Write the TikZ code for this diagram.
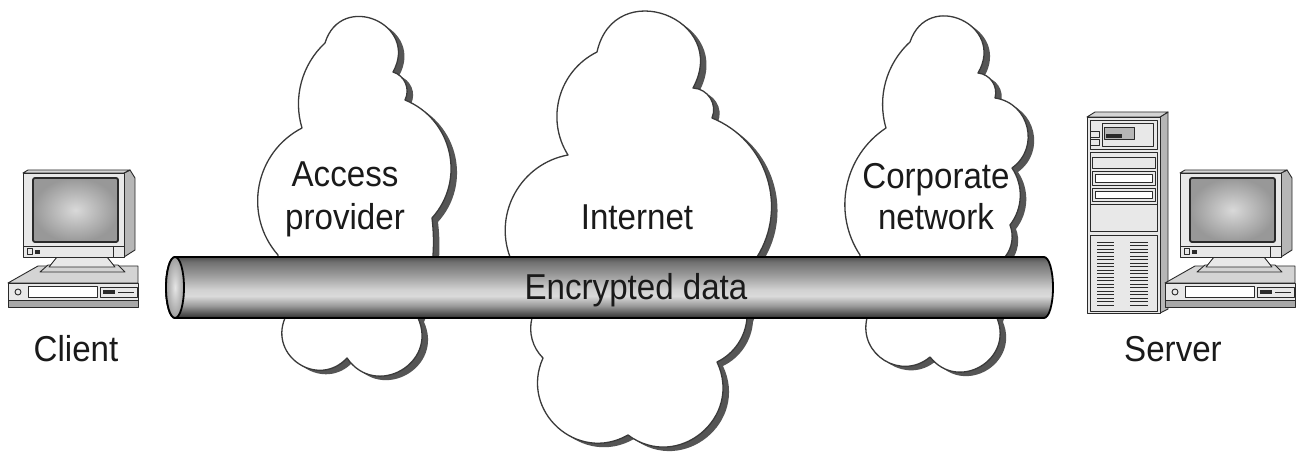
\documentclass[tikz,border=0pt]{standalone}
\usepackage{fontspec}
\setmainfont{Liberation Sans}[FakeStretch=0.92]

\definecolor{ink}{HTML}{1A1A1A}
\definecolor{cloudline}{HTML}{3A3A3A}
\definecolor{cloudshadow}{HTML}{555555}
\definecolor{caselight}{HTML}{E8E8E8}
\definecolor{casetop}{HTML}{D4D4D4}
\definecolor{caseside}{HTML}{B6B6B6}
\definecolor{casedark}{HTML}{A8A8A8}
\definecolor{caseline}{HTML}{2A2A2A}
\definecolor{screenin}{HTML}{D9D9D9}
\definecolor{screenout}{HTML}{989898}
\definecolor{tb0}{HTML}{303030}
\definecolor{tb1}{HTML}{585858}
\definecolor{tb2}{HTML}{9A9A9A}
\definecolor{tb3}{HTML}{DADADA}
\definecolor{tb4}{HTML}{D2D2D2}
\definecolor{tb5}{HTML}{9C9C9C}
\definecolor{tb6}{HTML}{707070}
\definecolor{tb7}{HTML}{4E4E4E}

% pipe body: dark edges, light band a little below the middle
\pgfdeclareverticalshading{tubeshade}{100bp}{color(0bp)=(tb0); color(25bp)=(tb0);
  color(29bp)=(tb1); color(35bp)=(tb2); color(43bp)=(tb3); color(48bp)=(tb4);
  color(60bp)=(tb5); color(71bp)=(tb6); color(75bp)=(tb7); color(100bp)=(tb7)}

\newcommand\lblsize{\fontsize{36}{43}\selectfont}

% cloud outlines: cusp points joined by circular lobes
\newcommand\cloudAP{(325,43) to[lobe=96] (393,72) to[lobe=50] (405,100)
  to[lobe=55] (432,218) to[lobe=15] (418,318) to[lobe=85] (347,358)
  to[lobe=80] (285,318) to[lobe=10] (278,255) to[lobe=52] (302,128)
  to[lobe=32] (325,43) -- cycle}
\newcommand\cloudIN{(597,52) to[lobe=98] (693,88) to[lobe=55] (712,118)
  to[lobe=50] (757,257) to[lobe=10] (747,318) to[lobe=30] (717,362)
  to[lobe=76] (628,435) to[lobe=72] (543,358) to[lobe=30] (532,318)
  to[lobe=10] (510,257) to[lobe=50] (568,155) to[lobe=48] (597,52) -- cycle}
\newcommand\cloudCN{(910,42) to[lobe=96] (978,73) to[lobe=50] (995,98)
  to[lobe=68] (1012,168) to[lobe=36] (1010,225) to[lobe=30] (1005,257)
  to[lobe=10] (997,318) to[lobe=82] (930,357) to[lobe=72] (867,318)
  to[lobe=10] (860,255) to[lobe=45] (886,128) to[lobe=32] (910,42) -- cycle}

\tikzset{
  lobe/.code={\pgfmathsetmacro\lobeloose{0.8514/(cos(#1/2)^2)}%
    \edef\lobetmp{\noexpand\pgfkeysalso{bend left=#1,looseness=\lobeloose}}\lobetmp},
  cloudbody/.style={draw=cloudline, fill=white, line width=1.3, line join=round},
  cloudshade/.style={fill=cloudshadow, shift={(6,4)}},
  lbl/.style={font=\lblsize, text=ink, inner sep=0pt, anchor=base},
  body/.style={draw=caseline, line width=0.9, line join=round},
  pics/desktop/.style={code={
    % system unit
    \filldraw[body, fill=casetop] (8,283) -- (38,266) -- (138,266) -- (138,283) -- cycle;
    \filldraw[body, fill=caselight] (8,283) rectangle (138,300);
    \filldraw[body, fill=casedark] (8,300) rectangle (138,307);
    \draw[body] (18,292) circle (3);
    \filldraw[body, fill=white] (28,286) rectangle (97,297);
    \filldraw[body, fill=caselight] (100,287) rectangle (137,297);
    \fill[caseline] (103,290) rectangle (115,294);
    \draw[body] (118,292) -- (134,292);
    % stand
    \filldraw[body, fill=casetop] (40,272) -- (48,265) -- (118,265) -- (125,272) -- cycle;
    \filldraw[body, fill=caselight] (57,257) -- (107,257) -- (115,267) -- (49,267) -- cycle;
    % monitor housing
    \filldraw[body, fill=caseside] (124,173) -- (130,170) -- (135,178) -- (135,250) -- (124,257) -- cycle;
    \filldraw[body, fill=casetop] (23,173) -- (28,170) -- (130,170) -- (124,173) -- cycle;
    \filldraw[body, fill=caselight] (23,173) rectangle (124,257);
    \shadedraw[draw=caseline, line width=1.8, rounded corners=2,
      inner color=screenin, outer color=screenout] (33,178) rectangle (118,242);
    \draw[body] (23,246) -- (124,246);
    \draw[body] (113,246) -- (113,257);
    \draw[body] (27,248) rectangle (32,254);
    \fill[caseline] (35,250) rectangle (40,254);
  }}
}

\begin{document}
\begin{tikzpicture}[x=1pt, y=-1pt]
\useasboundingbox (0,0) rectangle (1302,457);
\fill[white] (0,0) rectangle (1302,457);

% clouds with drop shadows
\fill[cloudshade] \cloudAP;
\fill[cloudshade] \cloudIN;
\fill[cloudshade] \cloudCN;
\filldraw[cloudbody] \cloudAP;
\filldraw[cloudbody] \cloudIN;
\filldraw[cloudbody] \cloudCN;

\node[lbl] (ap1) at (345,187) {Access};
\node[lbl] (ap2) at (345,230) {provider};
\node[lbl] (inet) at (637,230) {Internet};
\node[lbl] (cn1) at (936,189) {Corporate};
\node[lbl] (cn2) at (936,230) {network};

% encrypted pipe from client to server
\coordinate (pipeL) at (175,287.5);
\coordinate (pipeR) at (1044,287.5);
\shadedraw[shading=tubeshade, draw=black, line width=1.8, line join=round]
  (175,257) -- (1044,257)
  .. controls (1049,257) and (1053,270.7) .. (1053,287.5)
  .. controls (1053,304.3) and (1049,318) .. (1044,318)
  -- (175,318)
  .. controls (170,318) and (166,304.3) .. (166,287.5)
  .. controls (166,270.7) and (170,257) .. (175,257) -- cycle;
\shadedraw[draw=black, line width=1.8, inner color=white!90!black, outer color=white!62!black]
  (pipeL) ellipse [x radius=9, y radius=30.5];
\node[lbl] (enc) at (636,300) {Encrypted data};

% client workstation
\pic at (0,0) {desktop};
\node[lbl] (client) at (76,361) {Client};

% server: tower plus workstation
\filldraw[body, fill=caseside] (1160,117) -- (1168,112) -- (1168,309) -- (1160,313) -- cycle;
\filldraw[body, fill=casetop] (1087,117) -- (1095,112) -- (1168,112) -- (1160,117) -- cycle;
\filldraw[body, fill=caselight] (1087,117) rectangle (1160,313);
\draw[body] (1090,120) rectangle (1157,149);
\filldraw[body, fill=caselight] (1102,123) rectangle (1153,146);
\filldraw[body, fill=caseside] (1104,127) rectangle (1134,139);
\fill[caseline] (1106,134) rectangle (1122,138);
\draw[body] (1090,131) rectangle (1099,137);
\draw[body] (1090,139) rectangle (1099,145);
\draw[body] (1090,152) rectangle (1157,231);
\draw[body] (1092,157) rectangle (1155,168);
\draw[body] (1092,171) rectangle (1155,185);
\filldraw[body, fill=white] (1095,174) rectangle (1152,182);
\draw[body] (1092,188) rectangle (1155,201);
\filldraw[body, fill=white] (1095,191) rectangle (1152,198);
\draw[body] (1090,204) -- (1157,204);
\draw[body] (1090,235) rectangle (1157,311);
\foreach \y in {242,245.5,...,306} {
  \draw[caseline, line width=0.8] (1097,\y) -- (1114,\y);
  \draw[caseline, line width=0.8] (1130,\y) -- (1148,\y);
}
\pic at (1157,0) {desktop};
\node[lbl] (server) at (1173,361) {Server};
\end{tikzpicture}
\end{document}
